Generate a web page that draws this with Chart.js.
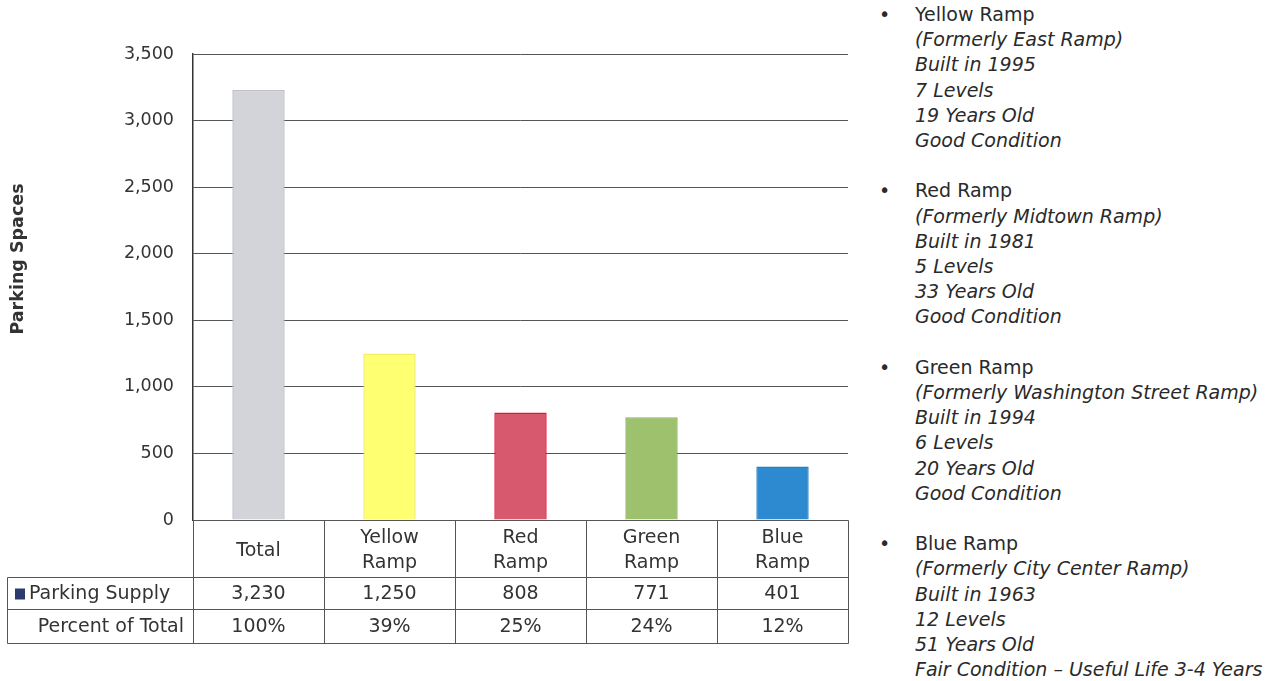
<!DOCTYPE html>
<html><head><meta charset="utf-8">
<script src="https://cdn.jsdelivr.net/npm/chart.js@4.4.1/dist/chart.umd.min.js"></script>
<style>
html,body{margin:0;padding:0;background:#fff;width:1272px;height:681px;overflow:hidden;}
#wrap{position:absolute;left:0;top:0;width:860px;height:681px;}
#notes{position:absolute;left:879px;top:2px;font-family:"DejaVu Sans",sans-serif;font-size:19px;line-height:25.2px;color:#2a2a2a;}
.group{position:relative;padding-left:36px;margin-bottom:25.2px;white-space:nowrap;}
.group .bullet{position:absolute;left:0;top:0;}
.i{font-style:italic;}
</style></head>
<body>
<div id="wrap"><canvas id="c" width="860" height="681"></canvas></div>
<div id="notes"></div>
<script>
// ---- data ----
const categories = ['Total', 'Yellow Ramp', 'Red Ramp', 'Green Ramp', 'Blue Ramp'];
const headerLines = [['Total'], ['Yellow', 'Ramp'], ['Red', 'Ramp'], ['Green', 'Ramp'], ['Blue', 'Ramp']];
const parkingSupply = [3230, 1250, 808, 771, 401];
const percentOfTotal = [100, 39, 25, 24, 12];
const yMin = 0, yMax = 3500, yStep = 500;
const seriesName = 'Parking Supply';
const row2Label = 'Percent of Total';
const axisTitle = 'Parking Spaces';
const rampNotes = [
  ['Yellow Ramp', '(Formerly East Ramp)', 'Built in 1995', '7 Levels', '19 Years Old', 'Good Condition'],
  ['Red Ramp', '(Formerly Midtown Ramp)', 'Built in 1981', '5 Levels', '33 Years Old', 'Good Condition'],
  ['Green Ramp', '(Formerly Washington Street Ramp)', 'Built in 1994', '6 Levels', '20 Years Old', 'Good Condition'],
  ['Blue Ramp', '(Formerly City Center Ramp)', 'Built in 1963', '12 Levels', '51 Years Old', 'Fair Condition \u2013 Useful Life 3-4 Years']
];

// ---- styles ----
const barFill = ['#d2d4da', '#ffff72', '#d6596d', '#9dc16c', '#2d8ad0'];
const barBorder = ['#bfc1c7', '#f3ef5c', '#e3163a', '#8cb55b', '#2a7fc0'];
const FONT = 'DejaVu Sans';
const TXT = '#333';

// notes panel (HTML text)
const notes = document.getElementById('notes');
rampNotes.forEach(g => {
  const d = document.createElement('div');
  d.className = 'group';
  const b = document.createElement('span'); b.className = 'bullet'; b.textContent = '\u2022'; d.appendChild(b);
  g.forEach((line, i) => {
    const l = document.createElement('div');
    if (i > 0) l.className = 'i';
    l.textContent = line;
    d.appendChild(l);
  });
  notes.appendChild(d);
});

const fmt = v => Number(v).toLocaleString('en-US');

const tablePlugin = {
  id: 'tablePlugin',
  afterDraw(chart) {
    const {ctx, chartArea, scales: {x}} = chart;
    const n = categories.length;
    const half = (x.getPixelForValue(1) - x.getPixelForValue(0)) / 2;
    const edges = [];
    for (let i = 0; i < n; i++) edges.push(Math.round(x.getPixelForValue(i) - half) + 0.5);
    edges.push(Math.round(x.getPixelForValue(n - 1) + half) + 0.5);
    const top = Math.round(chartArea.bottom) + 0.5;
    const hB = top + 57, r1B = hB + 32, r2B = r1B + 34;
    const L = 7.5;
    ctx.save();
    ctx.strokeStyle = '#555';
    ctx.lineWidth = 1;
    ctx.beginPath();
    ctx.moveTo(edges[0], top); ctx.lineTo(edges[n], top);
    [hB, r1B, r2B].forEach(yy => { ctx.moveTo(L, yy); ctx.lineTo(edges[n], yy); });
    edges.forEach(ex => { ctx.moveTo(ex, top); ctx.lineTo(ex, r2B); });
    ctx.moveTo(L, hB); ctx.lineTo(L, r2B);
    ctx.stroke();

    ctx.fillStyle = TXT;
    ctx.font = '19px "' + FONT + '"';
    ctx.textAlign = 'center';
    ctx.textBaseline = 'middle';
    const hMid = (top + hB) / 2 + 2;
    for (let i = 0; i < n; i++) {
      const cx = x.getPixelForValue(i);
      const lines = headerLines[i];
      const lh = 25;
      lines.forEach((t, k) => ctx.fillText(t, cx, hMid + (k - (lines.length - 1) / 2) * lh));
      ctx.fillText(fmt(parkingSupply[i]), cx, (hB + r1B) / 2 + 1);
      ctx.fillText(percentOfTotal[i] + '%', cx, (r1B + r2B) / 2 + 1);
    }
    // row labels
    ctx.fillStyle = '#2c3b6e';
    ctx.fillRect(15, (hB + r1B) / 2 - 5, 10, 11);
    ctx.fillStyle = TXT;
    ctx.textAlign = 'left';
    ctx.fillText(seriesName, 29, (hB + r1B) / 2 + 1);
    ctx.textAlign = 'right';
    ctx.fillText(row2Label, 184, (r1B + r2B) / 2 + 1);

    // y axis title
    ctx.save();
    ctx.translate(18, 259);
    ctx.rotate(-Math.PI / 2);
    ctx.textAlign = 'center';
    ctx.font = 'bold 17.5px "' + FONT + '"';
    ctx.fillStyle = TXT;
    ctx.fillText(axisTitle, 0, 0);
    ctx.restore();
    ctx.restore();
  }
};

new Chart(document.getElementById('c'), {
  type: 'bar',
  data: {
    labels: categories,
    datasets: [{
      label: seriesName,
      data: parkingSupply,
      backgroundColor: barFill,
      borderColor: barBorder,
      borderWidth: 1.5,
      barPercentage: 0.4,
      categoryPercentage: 1
    }]
  },
  options: {
    responsive: false,
    animation: false,
    devicePixelRatio: 1,
    layout: {padding: {top: 54, right: 12, bottom: 161, left: 0}},
    plugins: {legend: {display: false}, tooltip: {enabled: false}},
    scales: {
      x: {display: false},
      y: {
        min: yMin, max: yMax,
        ticks: {stepSize: yStep, padding: 19, color: TXT, font: {family: FONT, size: 17.5}, callback: v => fmt(v)},
        grid: {color: '#555', lineWidth: 1, drawTicks: false},
        border: {display: true, color: '#333', width: 1.5},
        afterFit(s) { s.width = 193; }
      }
    }
  },
  plugins: [tablePlugin]
});
</script>
</body></html>
